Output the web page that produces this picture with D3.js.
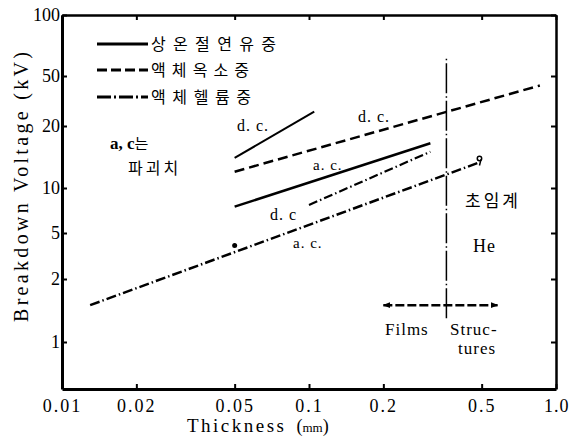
<!DOCTYPE html>
<html>
<head>
<meta charset="utf-8">
<script src="https://cdn.jsdelivr.net/npm/d3@7"></script>
<style>
  body { margin: 0; background: #fff; }
  svg { display: block; }
  .serif { font-family: "Liberation Serif", "DejaVu Serif", serif; }
  .kr { font-family: "Noto Sans CJK KR", sans-serif; }
</style>
</head>
<body>
<svg id="chart" width="569" height="439"></svg>
<script>
// tick values
const xTicks = [0.01, 0.02, 0.05, 0.1, 0.2, 0.5, 1.0];
const xTickLabels = ['0.01', '0.02', '0.05', '0.1', '0.2', '0.5', '1.0'];
const yTicks = [1, 2, 5, 10, 20, 50, 100];
const legendNames = ['상온절연유중', '액체옥소중', '액체헬륨중'];

// [thickness mm, breakdown kV]
const oilDC = [[0.05, 14], [0.105, 26]];
const oilAC = [[0.05, 7.5], [0.31, 16.5]];
const nitrogenDC = [[0.05, 12], [0.86, 42]];
const heliumDC = [[0.1, 7.7], [0.31, 15]];
const heliumAC = [[0.013, 1.5], [0.48, 13.2]];
const heliumPoint = [[0.05, 3.9]];
const heliumEnd = [[0.49, 13.6]];
const boundary = [[0.36, 1.3], [0.36, 61]];
const filmsSpan = [[0.2, 1.5], [0.58, 1.5]];

const svg = d3.select('#chart');

// x is a plain log axis; the printed y axis is unevenly ruled, so the
// scale follows the printed tick marks piece by piece
const x = d3.scaleLog().domain([0.01, 1]).range([62, 556]);
const y = d3.scaleLog()
  .domain([0.5, 1, 2, 5, 10, 20, 50, 100])
  .range([389, 342, 279, 233, 188, 126, 76, 15]);

const styleAxis = g => {
  g.attr('font-family', null).attr('font-size', null);
  g.selectAll('text').attr('class', 'serif').style('font-size', '18px').attr('fill', '#000');
  g.selectAll('line').attr('stroke', '#000').attr('stroke-width', 2);
  g.select('.domain').attr('stroke', '#000');
};

svg.append('g')
  .attr('transform', 'translate(0,15)')
  .call(d3.axisTop(x).tickValues(xTicks).tickFormat('').tickSizeInner(-5).tickSizeOuter(0))
  .call(styleAxis)
  .call(g => g.select('.domain').attr('stroke-width', 2.5));

svg.append('g')
  .attr('transform', 'translate(556,0)')
  .call(d3.axisRight(y).tickValues(yTicks).tickFormat('').tickSizeInner(-5).tickSizeOuter(0))
  .call(styleAxis)
  .call(g => g.select('.domain').attr('stroke-width', 2.5));

svg.append('g')
  .attr('transform', 'translate(0,389)')
  .call(d3.axisBottom(x).tickValues(xTicks).tickFormat((d, i) => xTickLabels[i])
    .tickSizeInner(-5).tickSizeOuter(0).tickPadding(10))
  .call(styleAxis)
  .call(g => g.select('.domain').attr('stroke-width', 3))
  .call(g => g.selectAll('text').style('letter-spacing', '2px'))
  .call(g => g.selectAll('.tick:last-of-type text')
    .attr('text-anchor', 'end').attr('x', 13).style('letter-spacing', '1px'));

svg.append('g')
  .attr('transform', 'translate(62,0)')
  .call(d3.axisLeft(y).tickValues(yTicks).tickFormat(d3.format('d'))
    .tickSizeInner(-5).tickSizeOuter(0).tickPadding(2))
  .call(styleAxis)
  .call(g => g.select('.domain').attr('stroke-width', 3));

// axis titles
svg.append('text')
  .attr('class', 'serif')
  .attr('transform', 'translate(28,322) rotate(-90)')
  .attr('textLength', 270)
  .attr('lengthAdjust', 'spacing')
  .style('font-size', '20px')
  .text('Breakdown Voltage (kV)');

const xTitle = svg.append('text').attr('class', 'serif').attr('x', 187).attr('y', 432);
xTitle.append('tspan').style('font-size', '19px').attr('textLength', 97).text('Thickness');
xTitle.append('tspan').attr('dx', 10).style('font-size', '18px').text('(');
xTitle.append('tspan').style('font-size', '13px').text('mm');
xTitle.append('tspan').style('font-size', '18px').text(')');

// curves
const line = d3.line().x(d => x(d[0])).y(d => y(d[1]));

const curves = [
  { data: oilDC, dash: null, width: 2 },
  { data: oilAC, dash: null, width: 2.5 },
  { data: nitrogenDC, dash: '10,5', width: 2.5 },
  { data: heliumDC, dash: '9,3,1.5,3', width: 2.2 },
  { data: heliumAC, dash: '10,3,1.5,3', width: 2.5 }
];

svg.selectAll('path.curve')
  .data(curves)
  .enter()
  .append('path')
  .attr('class', 'curve')
  .attr('d', d => line(d.data))
  .attr('fill', 'none')
  .attr('stroke', '#000')
  .attr('stroke-width', d => d.width)
  .attr('stroke-dasharray', d => d.dash);

svg.selectAll('circle.pt')
  .data(heliumPoint)
  .enter()
  .append('circle')
  .attr('class', 'pt')
  .attr('cx', d => x(d[0]))
  .attr('cy', d => y(d[1]))
  .attr('r', 2.5)
  .attr('fill', '#000');

// small end mark on the helium a.c. curve
heliumEnd.forEach(d => {
  svg.append('circle')
    .attr('cx', x(d[0])).attr('cy', y(d[1]) - 2)
    .attr('r', 2.2).attr('fill', 'none').attr('stroke', '#000').attr('stroke-width', 1.5);
  svg.append('line')
    .attr('x1', x(d[0]) + 1.5).attr('x2', x(d[0]))
    .attr('y1', y(d[1]) - 1).attr('y2', y(d[1]) + 5)
    .attr('stroke', '#000').attr('stroke-width', 1.5);
});

// films / structures boundary
svg.append('path')
  .attr('d', line(boundary))
  .attr('fill', 'none')
  .attr('stroke', '#000')
  .attr('stroke-width', 1.5)
  .attr('stroke-dasharray', '30,3,1.5,3');

svg.append('defs').append('marker')
  .attr('id', 'arrow')
  .attr('viewBox', '0 0 10 10')
  .attr('refX', 9).attr('refY', 5)
  .attr('markerWidth', 3).attr('markerHeight', 3)
  .attr('orient', 'auto-start-reverse')
  .append('path')
  .attr('d', 'M0,1L10,5L0,9Z')
  .attr('fill', '#000');

svg.append('path')
  .attr('d', line(filmsSpan))
  .attr('fill', 'none')
  .attr('stroke', '#000')
  .attr('stroke-width', 2.5)
  .attr('stroke-dasharray', '9,3')
  .attr('marker-start', 'url(#arrow)')
  .attr('marker-end', 'url(#arrow)');

// legend
const legendDash = [null, '10,4', '14,3,2,3'];
const legendY = [44, 70, 97];
const legendLen = [125, 98, 100];

const legend = svg.append('g');
legendNames.forEach((name, i) => {
  legend.append('line')
    .attr('x1', 97).attr('x2', 148)
    .attr('y1', legendY[i]).attr('y2', legendY[i])
    .attr('stroke', '#000')
    .attr('stroke-width', 2.8)
    .attr('stroke-dasharray', legendDash[i]);
  legend.append('text')
    .attr('class', 'kr')
    .attr('x', 151)
    .attr('y', legendY[i] + 6)
    .attr('textLength', legendLen[i])
    .attr('lengthAdjust', 'spacing')
    .style('font-size', '16px')
    .text(name);
});

// annotations
const notes = [
  { t: 'd. c.', x: 237, y: 131, s: 16, cls: 'serif' },
  { t: 'd. c.', x: 358, y: 122, s: 16, cls: 'serif' },
  { t: 'a. c.', x: 313, y: 170, s: 15, cls: 'serif' },
  { t: 'd. c', x: 270, y: 220, s: 16, cls: 'serif' },
  { t: 'a. c.', x: 293, y: 248, s: 15, cls: 'serif' },
  { t: 'He', x: 473, y: 252, s: 18, cls: 'serif' },
  { t: 'Films', x: 385, y: 335, s: 17, cls: 'serif' },
  { t: 'Struc-', x: 450, y: 335, s: 17, cls: 'serif' },
  { t: 'tures', x: 458, y: 354, s: 17, cls: 'serif' },
  { t: '초임계', x: 465, y: 207, s: 17, cls: 'kr' },
  { t: '파괴치', x: 128, y: 174, s: 16, cls: 'kr' }
];

svg.selectAll('text.note')
  .data(notes)
  .enter()
  .append('text')
  .attr('class', d => 'note ' + d.cls)
  .attr('x', d => d.x)
  .attr('y', d => d.y)
  .style('font-size', d => d.s + 'px')
  .style('letter-spacing', d => d.cls === 'kr' ? '3px' : '1px')
  .text(d => d.t);

const ac = svg.append('text').attr('x', 110).attr('y', 149);
ac.append('tspan').attr('class', 'serif').style('font-size', '17px').style('font-weight', 'bold').text('a, c');
ac.append('tspan').attr('class', 'kr').style('font-size', '15px').text('는');
</script>
</body>
</html>
